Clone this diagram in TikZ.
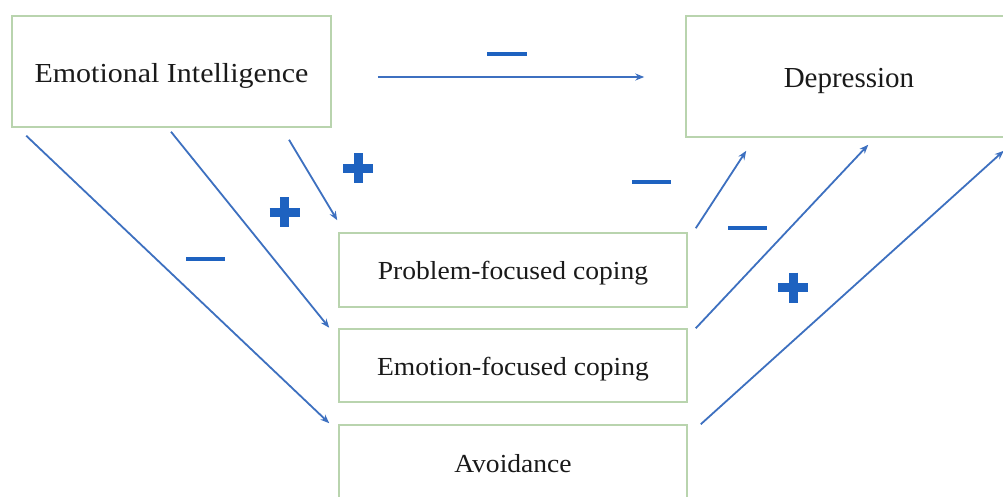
\documentclass[tikz,border=0pt]{standalone}
\usepackage{fontspec}
\setmainfont{Liberation Serif}
\newfontfamily\geo[FakeStretch=1.06]{Liberation Serif}
\newfontfamily\geow[FakeStretch=1.09]{Liberation Serif}
\usetikzlibrary{calc,arrows.meta}
\definecolor{boxline}{HTML}{B9D4AE}
\definecolor{arrowblue}{HTML}{3D70C0}
\definecolor{signblue}{HTML}{1E62C0}
\definecolor{txt}{HTML}{1A1A1A}
\tikzset{
  box/.style={draw=boxline, line width=1.5pt, fill=white, inner sep=0pt, align=center, text=txt},
  conn/.style={draw=arrowblue, line width=1.8pt, -{Stealth[length=9pt,width=7pt]}},
  minus/.style={draw=signblue, line width=4.5pt},
  plusarm/.style={draw=signblue, line width=9pt}
}
\newcommand{\plussign}[2]{%
  \draw[plusarm] (#1-15,#2) -- (#1+15,#2);
  \draw[plusarm] (#1,#2-15) -- (#1,#2+15);}
\newcommand{\lowered}[2]{\raisebox{-#1pt}[0pt][0pt]{#2}}
\begin{document}
\begin{tikzpicture}[x=1pt,y=-1pt]
\useasboundingbox (0,0) rectangle (1003,496);
\clip (0,0) rectangle (1003,496);
\fill[white] (0,0) rectangle (1003,496);
% boxes
\node[box, minimum width=319pt, minimum height=111pt, font=\geow\fontsize{27.5}{30}\selectfont] (ei) at (171.5,71.5) {\lowered{10.5}{Emotional Intelligence}};
\node[box, minimum width=326pt, minimum height=121pt, font=\fontsize{29}{32}\selectfont] (dep) at (849,76.5) {\lowered{10.5}{Depression}};
\node[box, minimum width=348pt, minimum height=74pt, font=\geo\fontsize{26}{30}\selectfont] (pf) at (513,270) {\lowered{9}{Problem-focused coping}};
\node[box, minimum width=348pt, minimum height=73pt, font=\geo\fontsize{26}{30}\selectfont] (ef) at (513,365.5) {\lowered{9.5}{Emotion-focused coping}};
\node[box, minimum width=348pt, minimum height=74pt, font=\geo\fontsize{26}{30}\selectfont] (av) at (513,462) {\lowered{10}{Avoidance}};
% connectors
\draw[conn] ($(ei.east)+(46,5.5)$) -- ($(dep.west)+(-41,0.5)$);
\draw[conn] ($(ei.south)+(117.5,12)$) -- ($(pf.north west)+(-1,-12)$);
\draw[conn] ($(ei.south)+(-0.5,4)$) -- ($(ef.north west)+(-9,-0.5)$);
\draw[conn] ($(ei.south west)+(15,8)$) -- ($(av.north west)+(-9,-1)$);
\draw[conn] ($(pf.north east)+(8,-4)$) -- ($(dep.south west)+(61,13)$);
\draw[conn] ($(ef.north east)+(8,0)$) -- ($(dep.south west)+(183,7)$);
\draw[conn] ($(av.north east)+(13,0)$) -- ($(dep.south east)+(-9,13)$);
% signs
\draw[minus] (487,54) -- (527,54);
\draw[minus] (186,259) -- (225,259);
\draw[minus] (632,182) -- (671,182);
\draw[minus] (728,228) -- (767,228);
\plussign{358}{168}
\plussign{284.5}{212}
\plussign{793}{287.5}
\end{tikzpicture}
\end{document}
